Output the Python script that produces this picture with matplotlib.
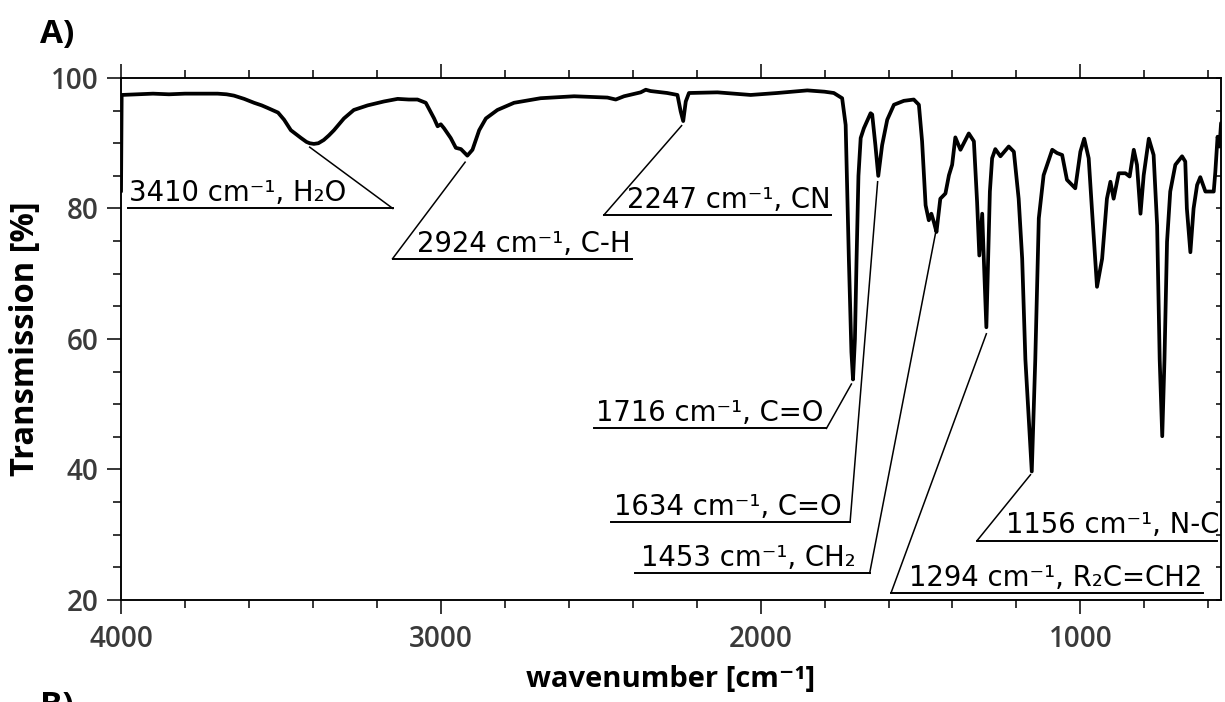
import numpy as np
import matplotlib
matplotlib.use('Agg')
import matplotlib.pyplot as plt
from matplotlib.ticker import MultipleLocator

# IR spectrum (wavenumber in cm-1, transmission in %)
wavenumber = [4000, 3998, 3950, 3900, 3850, 3800, 3750, 3698, 3670, 3647,
              3615, 3584, 3560, 3541, 3509, 3490, 3469, 3437, 3420, 3410,
              3397, 3383, 3366, 3350, 3334, 3303, 3272, 3229, 3178, 3135,
              3100, 3073, 3047, 3021, 3010, 3000, 2990, 2969, 2953, 2937,
              2917, 2901, 2880, 2859, 2823, 2771, 2688, 2583, 2479, 2453,
              2427, 2375, 2359, 2344, 2292, 2260, 2250, 2242, 2234, 2224,
              2135, 2031, 1948, 1854, 1800, 1771, 1745, 1734, 1724, 1716,
              1711, 1705, 1700, 1694, 1687, 1677, 1656, 1651, 1641, 1632,
              1620, 1604, 1583, 1552, 1521, 1505, 1495, 1484, 1474, 1466,
              1458, 1450, 1438, 1422, 1411, 1401, 1391, 1375, 1349, 1333,
              1323, 1316, 1307, 1302, 1294, 1283, 1276, 1266, 1250, 1224,
              1208, 1193, 1182, 1172, 1152, 1141, 1130, 1115, 1088, 1073,
              1057, 1042, 1016, 1000, 988, 974, 964, 948, 932, 917,
              906, 896, 880, 859, 846, 833, 823, 812, 802, 786,
              771, 760, 752, 744, 737, 729, 719, 703, 682, 672,
              667, 656, 646, 635, 625, 609, 599, 583, 578, 571,
              565, 560]
transmission = [82.6, 97.4, 97.5, 97.6, 97.5, 97.6, 97.6, 97.6, 97.5, 97.3,
                96.8, 96.2, 95.8, 95.4, 94.7, 93.6, 92.0, 90.8, 90.2, 90.0,
                89.9, 90.0, 90.5, 91.2, 92.0, 93.8, 95.1, 95.8, 96.4, 96.8,
                96.7, 96.7, 96.2, 93.8, 92.6, 92.9, 92.3, 90.8, 89.3, 89.1,
                88.1, 89.0, 92.0, 93.8, 95.1, 96.2, 96.9, 97.2, 97.0, 96.7,
                97.2, 97.8, 98.2, 98.0, 97.7, 97.4, 94.9, 93.4, 96.4, 97.7,
                97.8, 97.4, 97.7, 98.1, 97.9, 97.7, 96.9, 92.8, 72.3, 58.0,
                53.8, 60.0, 72.0, 85.0, 90.8, 92.3, 94.6, 94.4, 89.7, 85.0,
                89.7, 93.6, 95.9, 96.5, 96.7, 95.9, 90.3, 80.5, 78.2, 79.2,
                77.9, 76.4, 81.5, 82.3, 85.1, 86.7, 90.9, 89.0, 91.5, 90.3,
                81.0, 72.8, 79.2, 72.3, 61.8, 82.6, 87.7, 89.1, 88.0, 89.5,
                88.7, 81.5, 72.3, 56.9, 39.7, 56.9, 78.5, 85.1, 89.0, 88.5,
                88.2, 84.4, 83.1, 88.7, 90.7, 87.7, 80.0, 68.0, 72.3, 81.5,
                84.1, 81.5, 85.4, 85.4, 84.9, 89.0, 86.7, 79.2, 85.1, 90.7,
                88.2, 77.4, 56.9, 45.1, 56.9, 74.9, 82.6, 86.7, 88.0, 87.2,
                80.0, 73.3, 80.0, 83.6, 84.8, 82.6, 82.6, 82.6, 85.6, 91.0,
                89.5, 93.1]

# band assignments
band_pos = [3410, 2924, 2247, 1716, 1634, 1453, 1294, 1156]
band_group = ['H₂O', 'C-H', 'CN', 'C=O', 'C=O', 'CH₂', 'R₂C=CH2', 'N-C']

# label placement: text start, shelf height, shelf ends, leader tip height,
# and which end of the shelf the leader leaves from
label_x = [3975, 3073, 2417, 2515, 2457, 2373, 1536, 1234]
shelf_y = [80.0, 72.3, 79.0, 46.3, 32.0, 24.1, 21.1, 29.1]
shelf_x = [(3978, 3150), (3151, 2401), (2490, 1781), (2522, 1794),
           (2468, 1720), (2394, 1659), (1592, 616), (1323, 572)]
tip_y = [89.4, 87.1, 92.7, 53.1, 84.1, 76.2, 60.8, 39.2]
leader_from = ['end', 'start', 'start', 'end', 'end', 'end', 'start', 'start']

ui_font = ['Open Sans', 'DejaVu Sans']
tick_col = '#3a3a3a'

fig = plt.figure(figsize=(12.25, 7.02), dpi=100)
ax = fig.add_axes([0.0988, 0.1453, 0.898, 0.7436])

ax.plot(wavenumber, transmission, color='k', lw=2.7,
        solid_joinstyle='round', solid_capstyle='round')

for i in range(len(band_pos)):
    x0, x1 = shelf_x[i]
    ax.plot([x0, x1], [shelf_y[i], shelf_y[i]], color='k', lw=1.4)
    xs = x0 if leader_from[i] == 'start' else x1
    ax.plot([xs, band_pos[i]], [shelf_y[i], tip_y[i]], color='k', lw=1.1)
    ax.text(label_x[i], shelf_y[i] + 1.1, f'{band_pos[i]} cm⁻¹, {band_group[i]}',
            fontsize=19.8, family='DejaVu Sans', ha='left', va='baseline')

ax.set_xlim(4000, 560)
ax.set_ylim(20, 100)
ax.xaxis.set_major_locator(MultipleLocator(1000))
ax.xaxis.set_minor_locator(MultipleLocator(200))
ax.yaxis.set_major_locator(MultipleLocator(20))
ax.yaxis.set_minor_locator(MultipleLocator(5))
ax.tick_params(axis='x', which='both', top=True, bottom=True, direction='out',
               labeltop=False, width=1.1, pad=8)
ax.tick_params(axis='y', which='both', left=True, right=False, direction='out',
               width=1.1, pad=6)
ax.tick_params(which='major', length=10)
ax.tick_params(which='minor', length=5.8)
for lab in ax.get_xticklabels() + ax.get_yticklabels():
    lab.set_family(ui_font)
    lab.set_fontsize(20)
    lab.set_color(tick_col)
    lab.set_fontweight('semibold')

# right side: short inward ticks, no labels
ax2 = ax.twinx()
ax2.set_ylim(20, 100)
ax2.yaxis.set_major_locator(MultipleLocator(5))
ax2.tick_params(axis='y', direction='in', length=3.5, width=1.1, labelright=False)

for a in (ax, ax2):
    for s in a.spines.values():
        s.set_linewidth(1.1)

ax.set_xlabel('wavenumber [cm⁻¹]', fontsize=21, fontweight='bold', family=ui_font)
ax.set_ylabel('Transmission [%]', fontsize=23.5, fontweight='bold', family=ui_font)
ax.xaxis.set_label_coords(0.5, -0.125)
ax.yaxis.set_label_coords(-0.072, 0.5)

fig.text(0.0327, 0.975, 'A)', fontsize=24, fontweight='bold', family=ui_font,
         ha='left', va='top')
fig.text(0.0327, 0.017, 'B)', fontsize=24, fontweight='bold', family=ui_font,
         ha='left', va='top')

fig.savefig('out.png', dpi=100)
